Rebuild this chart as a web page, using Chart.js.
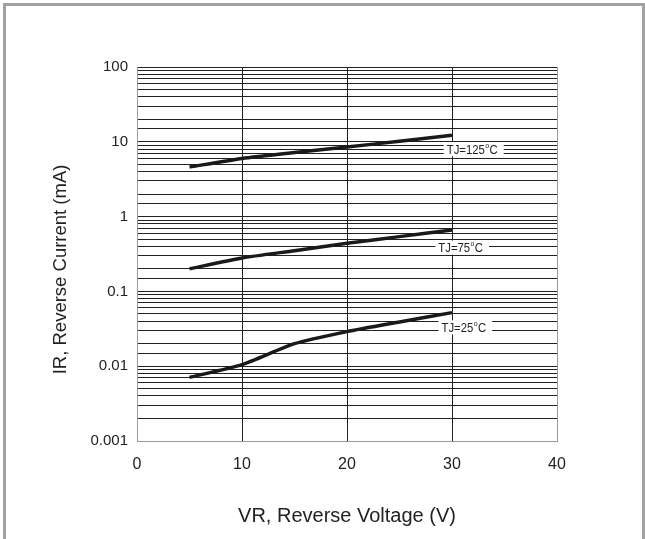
<!DOCTYPE html>
<html>
<head>
<meta charset="utf-8">
<script src="https://cdn.jsdelivr.net/npm/chart.js@4.4.0/dist/chart.umd.min.js"></script>
<style>
  html, body { margin: 0; padding: 0; background: #fff; }
  #wrap { position: relative; width: 645px; height: 539px; overflow: hidden; }
  #grafico { position: absolute; left: 0; top: 0; }
  #moldura {
    position: absolute; left: 3px; top: 3px; width: 636px; height: 560px;
    border: 3px solid #a2a2a2; border-bottom: none; pointer-events: none;
  }
</style>
</head>
<body>
<div id="wrap">
  <canvas id="grafico" width="645" height="539"></canvas>
  <div id="moldura"></div>
</div>
<script>
// tensao reversa (V)
const tensoes = [5, 10, 15, 20, 25, 30];

// corrente reversa (mA) por temperatura de juncao
const correnteTj125 = [4.6, 6.0, 7.2, 8.5, 10.2, 12.2];
const correnteTj75 = [0.2, 0.28, 0.35, 0.44, 0.54, 0.66];
const correnteTj25 = [0.0071, 0.0105, 0.02, 0.029, 0.039, 0.052];

const rotulosTj = ["TJ=125", "TJ=75", "TJ=25"];
const posRotuloX = [29.5, 28.7, 29.0];
const posRotuloY = [8.0, 0.385, 0.033];

const ticksY = ["0.001", "0.01", "0.1", "1", "10", "100"];

function montarSerie(valores) {
  return tensoes.map((v, i) => ({ x: v, y: valores[i] }));
}

function serie(valores) {
  return {
    data: montarSerie(valores),
    borderColor: "#1a1a1a",
    borderWidth: 3.5,
    pointRadius: 0,
    tension: 0.2,
    fill: false
  };
}

// rotulos TJ=..°C com fundo branco sobre a grade
const rotulosPlugin = {
  id: "rotulosTj",
  afterDatasetsDraw(chart) {
    const ctx = chart.ctx;
    const sx = chart.scales.x;
    const sy = chart.scales.y;
    const fonte = '13px "Liberation Sans", Arial, sans-serif';
    const fonteSup = '8px "Liberation Sans", Arial, sans-serif';
    const aperto = 0.87;

    rotulosTj.forEach((txt, i) => {
      const x = sx.getPixelForValue(posRotuloX[i]);
      const y = sy.getPixelForValue(posRotuloY[i]);

      ctx.save();
      ctx.font = fonte;
      const w1 = ctx.measureText(txt).width;
      const wC = ctx.measureText("C").width;
      ctx.font = fonteSup;
      const wO = ctx.measureText("o").width;
      const total = (w1 + wO + wC + 1) * aperto;

      ctx.fillStyle = "#fff";
      ctx.fillRect(x - 3, y - 7, total + 9, 14);

      ctx.translate(x, y);
      ctx.scale(aperto, 1);
      ctx.fillStyle = "#222";
      ctx.textBaseline = "middle";
      ctx.font = fonte;
      ctx.fillText(txt, 0, 1);
      ctx.font = fonteSup;
      ctx.fillText("o", w1 + 0.5, -3.5);
      ctx.font = fonte;
      ctx.fillText("C", w1 + wO + 1, 1);
      ctx.restore();
    });
  }
};

const ctx = document.getElementById("grafico").getContext("2d");

new Chart(ctx, {
  type: "line",
  data: {
    datasets: [serie(correnteTj125), serie(correnteTj75), serie(correnteTj25)]
  },
  options: {
    responsive: false,
    animation: false,
    layout: {
      padding: { left: 46, right: 88, top: 67, bottom: 7 }
    },
    plugins: {
      legend: { display: false },
      tooltip: { enabled: false }
    },
    scales: {
      x: {
        type: "linear",
        min: 0,
        max: 40,
        afterFit: scale => { scale.height = 91; },
        ticks: {
          stepSize: 10,
          padding: 14,
          color: "#222",
          font: { family: "Liberation Sans, Arial, sans-serif", size: 16 }
        },
        grid: {
          drawTicks: false,
          lineWidth: 1,
          color: c => (c.tick && (c.tick.value === 0 || c.tick.value === 40)) ? "#999" : "#222"
        },
        border: { color: "#999", width: 1 },
        title: {
          display: true,
          text: "VR, Reverse Voltage (V)",
          color: "#222",
          font: { family: "Liberation Sans, Arial, sans-serif", size: 20 }
        }
      },
      y: {
        type: "logarithmic",
        min: 0.001,
        max: 100,
        afterFit: scale => { scale.width = 91; },
        ticks: {
          autoSkip: false,
          padding: 9,
          color: "#222",
          font: { family: "Liberation Sans, Arial, sans-serif", size: 15 },
          callback: valor => {
            const e = Math.log10(valor);
            const r = Math.round(e);
            if (Math.abs(e - r) < 1e-6) return ticksY[r + 3];
            return "";
          }
        },
        grid: {
          drawTicks: false,
          lineWidth: 1,
          color: "#222"
        },
        border: { color: "#999", width: 1 },
        title: {
          display: true,
          text: "IR, Reverse Current (mA)      ",
          color: "#222",
          font: { family: "Liberation Sans, Arial, sans-serif", size: 18.5 }
        }
      }
    }
  },
  plugins: [rotulosPlugin]
});
</script>
</body>
</html>
